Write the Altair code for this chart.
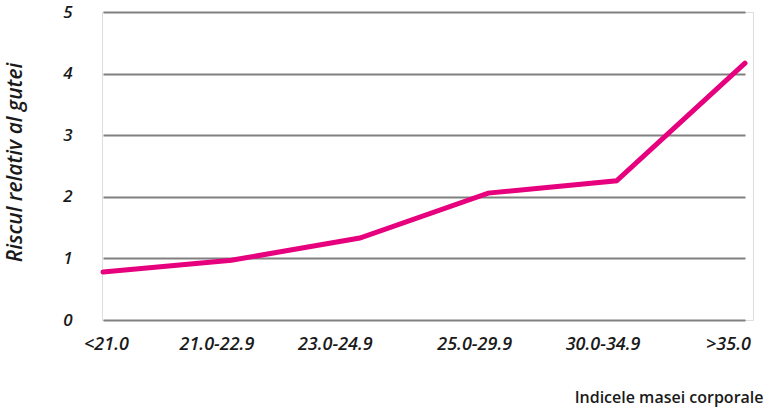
import altair as alt
import pandas as pd

# Body-mass-index groups and relative gout risk
bmi_groups = ["<21.0", "21.0-22.9", "23.0-24.9", "25.0-29.9", "30.0-34.9", ">35.0"]
relative_risk = [0.78, 0.97, 1.33, 2.06, 2.26, 4.17]
# horizontal nudges for the category labels (px)
label_shift = [3, -15, -25, -14, -14, -17]

df = pd.DataFrame({"bmi": bmi_groups, "risk": relative_risk})

FONT = "Open Sans"
W, H = 651, 308

label_offset = {
    "condition": [
        {"test": f"datum.value === {g!r}", "value": s}
        for g, s in zip(bmi_groups, label_shift)
    ],
    "value": 0,
}

line = alt.Chart(df).mark_line(
    color="#E6007E", strokeWidth=5, strokeCap="round", strokeJoin="miter"
).encode(
    x=alt.X(
        "bmi:N",
        sort=bmi_groups,
        scale=alt.Scale(type="point", range=[1, 643], padding=0),
        axis=alt.Axis(
            title="Indicele masei corporale",
            titleFont=FONT,
            titleFontSize=16,
            titleFontWeight=600,
            titleColor="#1a1a1a",
            titleAnchor="end",
            titleAlign="right",
            titleBaseline="alphabetic",
            titleX=661,
            titleY=82,
            labelFont=FONT,
            labelFontSize=18,
            labelFontStyle="italic",
            labelFontWeight=600,
            labelColor="#1a1a1a",
            labelAngle=0,
            labelPadding=15,
            labelOffset=label_offset,
            ticks=False,
            domain=False,
            grid=False,
        ),
    ),
    y=alt.Y(
        "risk:Q",
        scale=alt.Scale(domain=[0, 5]),
        axis=alt.Axis(
            title="Riscul relativ al gutei",
            titleFont=FONT,
            titleFontSize=21,
            titleFontStyle="italic",
            titleFontWeight=600,
            titleColor="#1a1a1a",
            titleAngle=270,
            titleAlign="center",
            titleBaseline="middle",
            titleX=-87,
            titleY=150,
            values=[0, 1, 2, 3, 4, 5],
            labelFont=FONT,
            labelFontSize=17,
            labelFontStyle="italic",
            labelFontWeight=600,
            labelColor="#1a1a1a",
            labelPadding=30,
            ticks=False,
            domain=False,
            grid=True,
            gridColor="#808080",
            gridWidth=2,
        ),
    ),
)

chart = line.properties(
    width=W,
    height=H,
    autosize="none",
    padding={"left": 102, "top": 12, "right": 17, "bottom": 89},
).configure_view(stroke=None).configure(background="white")

chart.save("out.html", embed_options={"renderer": "svg", "actions": False})
